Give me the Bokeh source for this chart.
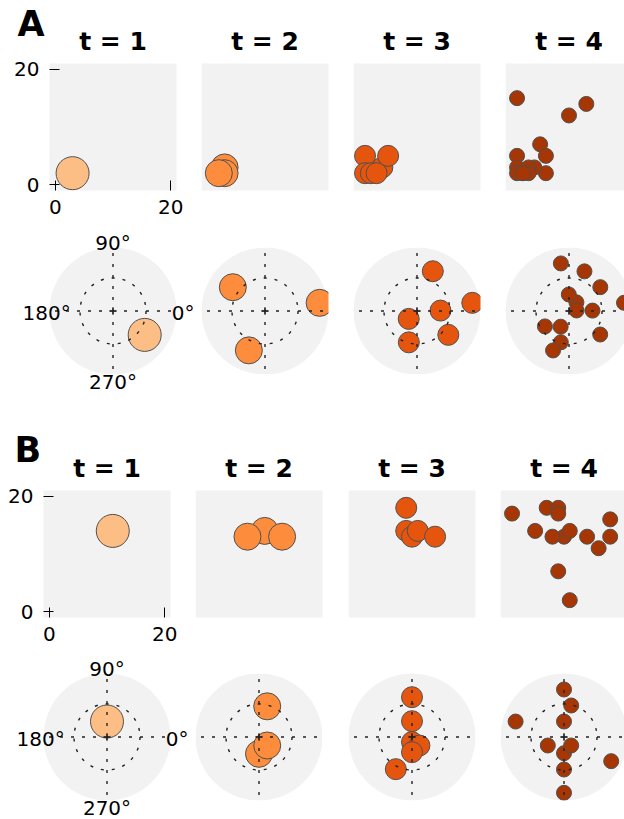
import numpy as np
from bokeh.plotting import figure
from bokeh.layouts import column, row
from bokeh.models import Label, FixedTicker, Range1d
from bokeh.embed import file_html
from bokeh.resources import INLINE

# ---------------- data ----------------
TITLES = ["t = 1", "t = 2", "t = 3", "t = 4"]
COLORS = ["#fdbe85", "#fd8d3c", "#e6550d", "#a63603"]
SIZES = [33, 27, 21, 15]
TICKS = [0, 20]
ANGLE_LABELS = ["0°", "90°", "180°", "270°"]

# Panel A: positions on the grid
A_x = [[3],
       [3, 3, 2],
       [4, 1, 5, 1, 2, 3],
       [1, 13, 10, 5, 1, 6, 6, 1, 1, 4, 3, 2, 3, 2]]
A_y = [[2],
       [3, 2, 2],
       [3, 5, 5, 2, 2, 2],
       [15, 14, 12, 7, 5, 5, 2, 3, 2, 3, 3, 2, 2, 2]]
# Panel A: polar (angle in degrees, radius as fraction of outer radius)
A_ang = [[323],
         [143.5, 247.7, 8.5],
         [68.3, 8.4, 1, 223.6, 322.7, 255.4],
         [99.7, 68.7, 37.3, 49.6, 90.7, 8.5, 4, 1, 212.6, 242, 323, 255.4, 248]]
A_rad = [[0.625],
         [0.63, 0.67, 0.87],
         [0.674, 0.88, 0.37, 0.18, 0.62, 0.51],
         [0.76, 0.67, 0.62, 0.18, 0.26, 0.876, 0.12, 0.37, 0.45, 0.28, 0.615, 0.51, 0.67]]

# Panel B: positions on the grid
B_x = [[11],
       [11, 8, 14],
       [9, 9, 10, 11, 14],
       [1, 7, 9, 9, 18, 5, 10, 8, 11, 14, 18, 16, 9, 11]]
B_y = [[14],
       [14, 13, 13],
       [18, 14, 13, 14, 13],
       [17, 18, 18, 17, 16, 14, 13, 13, 14, 13, 13, 11, 7, 2]]
# Panel B: polar
B_ang = [[90],
         [75, 270, 314],
         [90, 90, 270, 311, 270, 243.3],
         [90, 77.1, 162.3, 90, 207.7, 270, 310, 332.9, 270, 270]]
B_rad = [[0.244],
         [0.50, 0.265, 0.186],
         [0.627, 0.249, 0.08, 0.178, 0.239, 0.567],
         [0.748, 0.509, 0.80, 0.244, 0.288, 0.255, 0.175, 0.835, 0.512, 0.879]]

RING = 0.52

# ---------------- styling ----------------
BG = "#f2f2f2"
EDGE = "#505050"
GRIDC = "#222222"
FONT = "DejaVu Sans"
SQ = 127            # px of a panel
S = SQ / 22.0       # px per grid unit (range -1..21)
RPX = SQ / 2.0      # px of polar outer radius
BASE_FIX = 0.36     # em: correction of the rendered text baseline


def base_fig(width, height, xr, yr, axes):
    p = figure(width=width, height=height, x_range=xr, y_range=yr,
               output_backend="svg", toolbar_location=None, title=None,
               x_axis_location="below" if axes else None,
               y_axis_location="left" if axes else None,
               min_border_left=0, min_border_right=0,
               min_border_top=0, min_border_bottom=0)
    p.outline_line_color = None
    p.border_fill_color = "white"
    p.background_fill_color = "white"
    p.xgrid.grid_line_color = None
    p.ygrid.grid_line_color = None
    return p


def grid_fig(xs, ys, k, W, H, L, T, axes, letter=None):
    xr = Range1d(-1 - L / S, -1 + (W - L) / S)
    yr = Range1d(-1 - (H - T - SQ) / S, 21 + T / S)
    p = base_fig(W, H, xr, yr, axes)
    p.quad(left=[-1], right=[21], bottom=[-1], top=[21], fill_color=BG, line_color=None)
    p.scatter(xs, ys, size=SIZES[k], fill_color=COLORS[k], line_color=EDGE,
              line_width=1)
    if axes:
        p.xaxis[0].fixed_location = -1
        p.yaxis[0].fixed_location = -1
        for ax in (p.xaxis[0], p.yaxis[0]):
            ax.ticker = FixedTicker(ticks=TICKS)
            ax.minor_tick_line_color = None
            ax.axis_line_color = None
            ax.major_tick_in = 10
            ax.major_tick_out = 0
            ax.major_tick_line_color = "black"
            ax.major_label_text_font = FONT
            ax.major_label_text_font_size = "20px"
            ax.major_label_text_color = "black"
        p.yaxis[0].major_label_standoff = 10
        p.xaxis[0].major_label_standoff = 9
    p.add_layout(Label(x=10, y=21 + (13 + BASE_FIX * 25) / S, text=TITLES[k],
                       text_font=FONT, text_font_size="25px", text_font_style="bold",
                       text_align="center", text_baseline="alphabetic",
                       text_color="black"))
    if letter is not None:
        p.add_layout(Label(x=letter[1], y=letter[2] + 0.38 * 35 / S, text=letter[0],
                           text_font=FONT, text_font_size="35px", text_font_style="bold",
                           text_align="left", text_baseline="alphabetic",
                           text_color="black"))
    return p


def polar_fig(ang, rad, k, W, H, cx, cy, labels):
    xr = Range1d(-cx / RPX, (W - cx) / RPX)
    yr = Range1d(-(H - cy) / RPX, cy / RPX)
    p = base_fig(W, H, xr, yr, False)
    p.circle(x=[0], y=[0], radius=1, fill_color=BG, line_color=None)
    a = np.deg2rad(np.array(ang, dtype=float))
    r = np.array(rad, dtype=float)
    p.scatter(r * np.cos(a), r * np.sin(a), size=SIZES[k], fill_color=COLORS[k],
              line_color=EDGE, line_width=1)
    # the axes box of a polar panel ends at the circle's bounding box
    big = 10
    p.quad(left=[1, -big, -big, -big], right=[big, -1, big, big],
           bottom=[-big, -big, 1, -big], top=[big, big, big, -1],
           fill_color="white", line_color=None)
    # grid on top of the points
    p.circle(x=[0], y=[0], radius=RING, fill_color=None, line_color=GRIDC,
             line_width=1.4, line_dash="3 8")
    p.segment(x0=[0, 0, 0, 0], y0=[0, 0, 0, 0], x1=[1, 0, -1, 0], y1=[0, 1, 0, -1],
              line_color=GRIDC, line_width=1.4, line_dash="3 8")
    p.scatter([0], [0], marker="cross", size=8, line_color=GRIDC, line_width=1)
    if labels:
        fix = BASE_FIX * 20 / RPX
        kw = dict(text_font=FONT, text_font_size="20px", text_color="black",
                  text_baseline="alphabetic")
        p.add_layout(Label(x=0.925, y=-0.14 + fix, text=ANGLE_LABELS[0],
                           text_align="left", **kw))
        p.add_layout(Label(x=0.0, y=0.965 + fix, text=ANGLE_LABELS[1],
                           text_align="center", **kw))
        p.add_layout(Label(x=-0.665, y=-0.14 + fix, text=ANGLE_LABELS[2],
                           text_align="right", **kw))
        p.add_layout(Label(x=0.0, y=-1.225 + fix, text=ANGLE_LABELS[3],
                           text_align="center", **kw))
    return p


# ---------------- layout ----------------
# Row heights: 230, 200, 223, 166  (total 819)
A_W = [201, 152, 152, 119]
A_L = [49, 0, 0, 0]
B_W = [195, 153, 152, 124]
B_L = [43, 0, 0, 0]

rowA1 = [grid_fig(A_x[k], A_y[k], k, A_W[k], 230, A_L[k], 63, k == 0,
                  ("A", -1 - 32 / S, 21 + 26 / S) if k == 0 else None) for k in range(4)]
rowA2 = [polar_fig(A_ang[k], A_rad[k], k, A_W[k], 200, A_L[k] + RPX, 17 + RPX, k == 0)
         for k in range(4)]
rowB1 = [grid_fig(B_x[k], B_y[k], k, B_W[k], 223, B_L[k], 60, k == 0,
                  ("B", -1 - 29 / S, 21 + 27 / S) if k == 0 else None) for k in range(4)]
rowB2 = [polar_fig(B_ang[k], B_rad[k], k, B_W[k], 166, B_L[k] + RPX, 20 + RPX, k == 0)
         for k in range(4)]

layout = column(row(*rowA1), row(*rowA2), row(*rowB1), row(*rowB2))

open("out.html", "w").write(file_html(layout, INLINE))
